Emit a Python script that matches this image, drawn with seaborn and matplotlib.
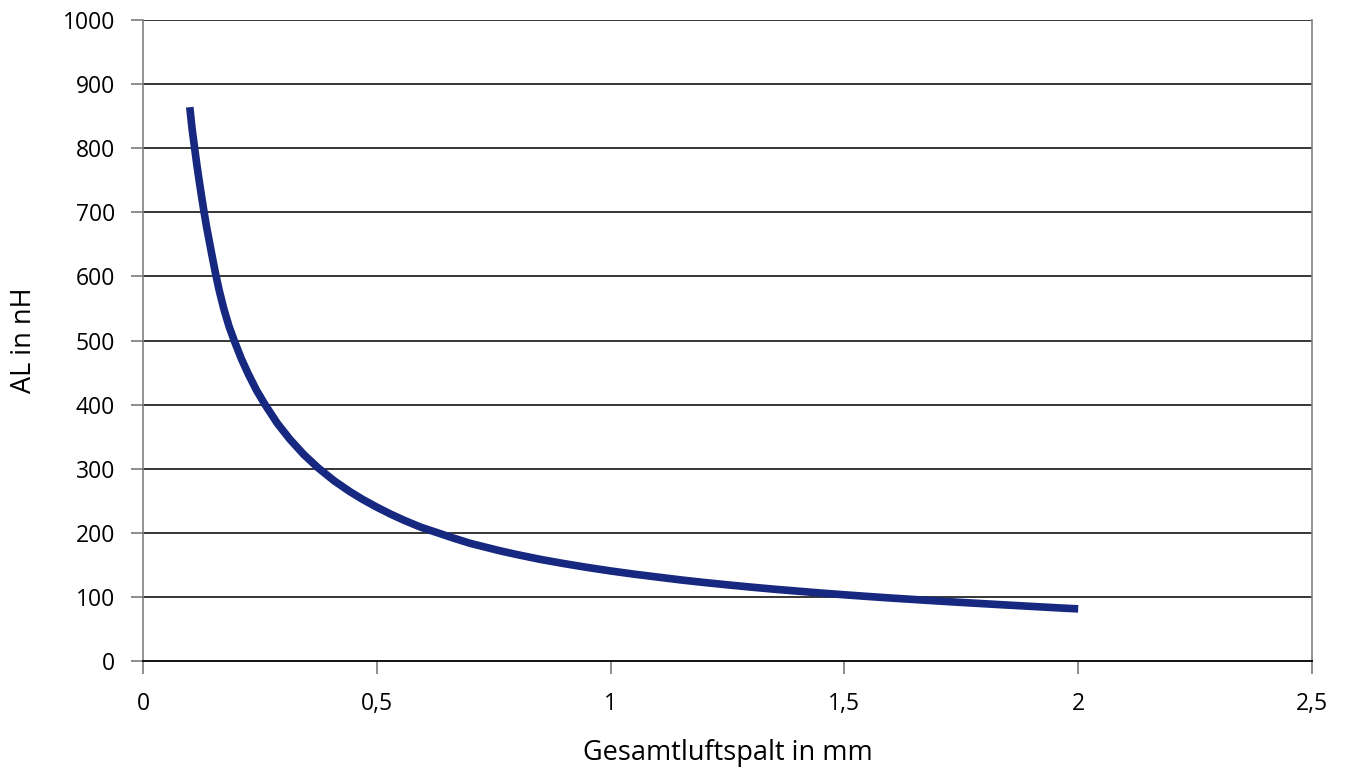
import pandas as pd
import matplotlib
matplotlib.use("Agg")
import matplotlib.pyplot as plt
import seaborn as sns

# values
luftspalt = [0.100, 0.105, 0.111, 0.115, 0.120, 0.125, 0.130, 0.136, 0.142, 0.148,
             0.155, 0.163, 0.173, 0.184, 0.195, 0.210, 0.225, 0.243, 0.261, 0.287,
             0.314, 0.344, 0.375, 0.409, 0.443, 0.470, 0.500, 0.530, 0.560, 0.595,
             0.630, 0.665, 0.700, 0.763, 0.800, 0.850, 0.900, 0.950, 1.000, 1.050,
             1.100, 1.150, 1.200, 1.250, 1.300, 1.350, 1.400, 1.450, 1.500, 1.550,
             1.600, 1.650, 1.700, 1.750, 1.800, 1.850, 1.900, 1.950, 2.000]
al_nh = [864, 830, 797, 775, 750, 726, 703, 677, 654, 631,
         605, 578, 549, 522, 500, 472, 448, 422, 400, 371,
         346, 322, 301, 281, 264, 252, 240, 229, 219, 208.5,
         200, 191.5, 183.5, 172, 166, 158.5, 152, 146, 140.5, 135.5,
         131, 126.5, 122.5, 118.8, 115.3, 112, 109, 106, 103.3, 100.7,
         98.2, 95.9, 93.6, 91.4, 89.3, 87.2, 85.2, 83.2, 81.3]

x_ticks = [0, 0.5, 1, 1.5, 2, 2.5]
x_labels = ["0", "0,5", "1", "1,5", "2", "2,5"]
y_ticks = list(range(0, 1001, 100))

df = pd.DataFrame({"Gesamtluftspalt": luftspalt, "AL": al_nh})

sns.set_style("white")
plt.rcParams['font.family'] = ['Open Sans', 'DejaVu Sans']

fig = plt.figure(figsize=(13.46, 7.69), dpi=100)
ax = fig.add_axes([143/1346, 1 - 661/769, (1312 - 143)/1346, (661 - 20)/769])

for y in y_ticks[1:]:
    ax.axhline(y, color="black", linewidth=1.1, zorder=1)

sns.lineplot(data=df, x="Gesamtluftspalt", y="AL", ax=ax, color="#16287f",
             linewidth=5.5, zorder=3)
for ln in ax.lines:
    ln.set_solid_capstyle("butt")
    ln.set_solid_joinstyle("round")

ax.set_xlim(0, 2.5)
ax.set_ylim(0, 1000)
ax.set_xticks(x_ticks)
ax.set_xticklabels(x_labels)
ax.set_yticks(y_ticks)
ax.tick_params(axis="both", direction="out", length=9, width=1.1, color="#707070",
               labelsize=16.5, labelcolor="black", left=True, bottom=True)
ax.tick_params(axis="y", pad=11)
ax.tick_params(axis="x", pad=13)

for side in ["left", "right"]:
    ax.spines[side].set_color("#808080")
    ax.spines[side].set_linewidth(1.2)
ax.spines["bottom"].set_color("black")
ax.spines["bottom"].set_linewidth(1.3)
ax.spines["top"].set_visible(False)

ax.set_xlabel("Gesamtluftspalt in mm", fontsize=19.5, labelpad=17, color="black")
ax.set_ylabel("AL in nH", fontsize=19.5, labelpad=18, color="black")

fig.savefig("out.png", dpi=100)
